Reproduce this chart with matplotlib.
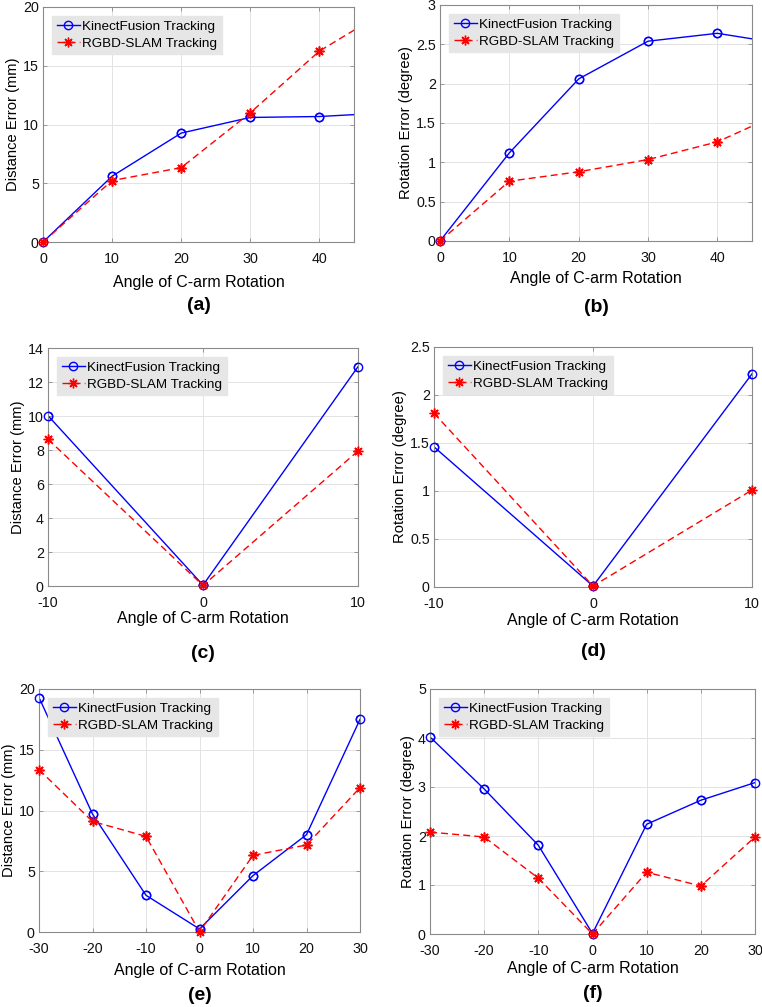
import matplotlib
matplotlib.use("Agg")
import matplotlib.pyplot as plt

plt.rcParams['font.family'] = ['Liberation Sans', 'DejaVu Sans']

# ---------------- data ----------------
angles_a = [0, 10, 20, 30, 40, 50]
kinect_dist_a = [0.0, 5.6, 9.27, 10.6, 10.68, 11.0]
rgbd_dist_a = [0.0, 5.23, 6.33, 11.0, 16.25, 19.8]

angles_b = [0, 10, 20, 30, 40, 50]
kinect_rot_b = [0.0, 1.12, 2.06, 2.54, 2.64, 2.50]
rgbd_rot_b = [0.0, 0.76, 0.88, 1.035, 1.26, 1.66]

angles_cd = [-10, 0, 10]
kinect_dist_c = [10.02, 0.05, 12.9]
rgbd_dist_c = [8.63, 0.03, 7.94]
kinect_rot_d = [1.46, 0.01, 2.22]
rgbd_rot_d = [1.81, 0.01, 1.01]

angles_ef = [-30, -20, -10, 0, 10, 20, 30]
kinect_dist_e = [19.3, 9.71, 3.02, 0.25, 4.64, 8.01, 17.5]
rgbd_dist_e = [13.36, 9.1, 7.87, 0.02, 6.31, 7.16, 11.88]
kinect_rot_f = [4.02, 2.96, 1.81, 0.01, 2.24, 2.73, 3.09]
rgbd_rot_f = [2.08, 1.98, 1.14, 0.0, 1.26, 0.98, 1.98]

series_names = ["KinectFusion Tracking", "RGBD-SLAM Tracking"]
panel_labels = ["(a)", "(b)", "(c)", "(d)", "(e)", "(f)"]
xlabel_text = "Angle of C-arm Rotation"
ylabel_dist = "Distance Error (mm)"
ylabel_rot = "Rotation Error (degree)"

W, H = 762, 1007
fig = plt.figure(figsize=(W / 100, H / 100), dpi=100)


def make_axes(l, r, t, b):
    return fig.add_axes([l / W, 1 - b / H, (r - l) / W, (b - t) / H])


panels = [
    ((43, 354, 7, 242), angles_a, kinect_dist_a, rgbd_dist_a, (0, 45), [0, 10, 20, 30, 40],
     (0, 20), [0, 5, 10, 15, 20], ylabel_dist, 305, 283),
    ((440, 752, 5, 241), angles_b, kinect_rot_b, rgbd_rot_b, (0, 45), [0, 10, 20, 30, 40],
     (0, 3), [0, 0.5, 1, 1.5, 2, 2.5, 3], ylabel_rot, 308, 279),
    ((48, 358, 348, 586), angles_cd, kinect_dist_c, rgbd_dist_c, (-10, 10), [-10, 0, 10],
     (0, 14), [0, 2, 4, 6, 8, 10, 12, 14], ylabel_dist, 653, 618),
    ((434, 752, 347, 587), angles_cd, kinect_rot_d, rgbd_rot_d, (-10, 10), [-10, 0, 10],
     (0, 2.5), [0, 0.5, 1, 1.5, 2, 2.5], ylabel_rot, 652, 620),
    ((39, 360, 689, 932), angles_ef, kinect_dist_e, rgbd_dist_e, (-30, 30), [-30, -20, -10, 0, 10, 20, 30],
     (0, 20), [0, 5, 10, 15, 20], ylabel_dist, 995, 970),
    ((430, 755, 689, 934), angles_ef, kinect_rot_f, rgbd_rot_f, (-30, 30), [-30, -20, -10, 0, 10, 20, 30],
     (0, 5), [0, 1, 2, 3, 4, 5], ylabel_rot, 994, 968),
]

spine_col = "#8a8a8a"
blue_style = dict(color="#0000ff", marker="o", markersize=6, markerfacecolor="none",
                  markeredgewidth=1.0)
red_style = dict(color="#ff0000", marker=(8, 2, 0), markersize=7, markeredgewidth=1.0)


def fmt(v):
    if float(v).is_integer():
        return str(int(v))
    return ("%g" % v)


for i, (box, xs, k, r, xl, xt, yl, yt, ylab, laby, xlaby) in enumerate(panels):
    l, rr, t, b = box
    ax = make_axes(l, rr, t, b)
    ax.plot(xs, k, linestyle="-", linewidth=1.0, label=series_names[0], **blue_style)
    ax.plot(xs, r, linestyle="--", linewidth=1.0, dashes=(5, 3), label=series_names[1],
            **red_style)
    # unclipped markers for points inside the x range (drawn over the axes edge)
    vis = [j for j, x in enumerate(xs) if xl[0] <= x <= xl[1]]
    ax.plot([xs[j] for j in vis], [k[j] for j in vis], linestyle="none", clip_on=False,
            zorder=3, **blue_style)
    ax.plot([xs[j] for j in vis], [r[j] for j in vis], linestyle="none", clip_on=False,
            zorder=3, **red_style)
    ax.set_xlim(*xl)
    ax.set_ylim(*yl)
    ax.set_xticks(xt)
    ax.set_yticks(yt)
    ax.set_xticklabels([fmt(v) for v in xt], fontsize=10.3)
    ax.set_yticklabels([fmt(v) for v in yt], fontsize=10.3)
    ax.grid(True, color="#e3e3e3", linewidth=0.7)
    ax.set_axisbelow(True)
    ax.tick_params(direction="in", length=3, width=0.6, color=spine_col,
                   top=True, right=True, labelcolor="#111111")
    ax.tick_params(axis="x", pad=7)
    ax.tick_params(axis="y", pad=3)
    for s in ax.spines.values():
        s.set_color(spine_col)
        s.set_linewidth(0.8)
    ax.set_ylabel(ylab, fontsize=10.6, labelpad=2)
    cx = (l + rr) / 2
    fig.text(cx / W, 1 - xlaby / H, xlabel_text, fontsize=11.5, ha="center", va="center")
    fig.text(cx / W, 1 - laby / H, panel_labels[i], fontsize=14, fontweight="bold",
             ha="center", va="center")
    leg = ax.legend(loc="upper left", fontsize=9.7, frameon=True, fancybox=False,
                    handlelength=1.7, handletextpad=0.2, borderpad=0.32,
                    labelspacing=0.32, borderaxespad=0.7)
    leg.get_frame().set_facecolor("#e6e6e6")
    leg.get_frame().set_edgecolor("#e6e6e6")
    leg.get_frame().set_alpha(1.0)
    leg.set_zorder(5)

fig.savefig("out.png", dpi=100)
